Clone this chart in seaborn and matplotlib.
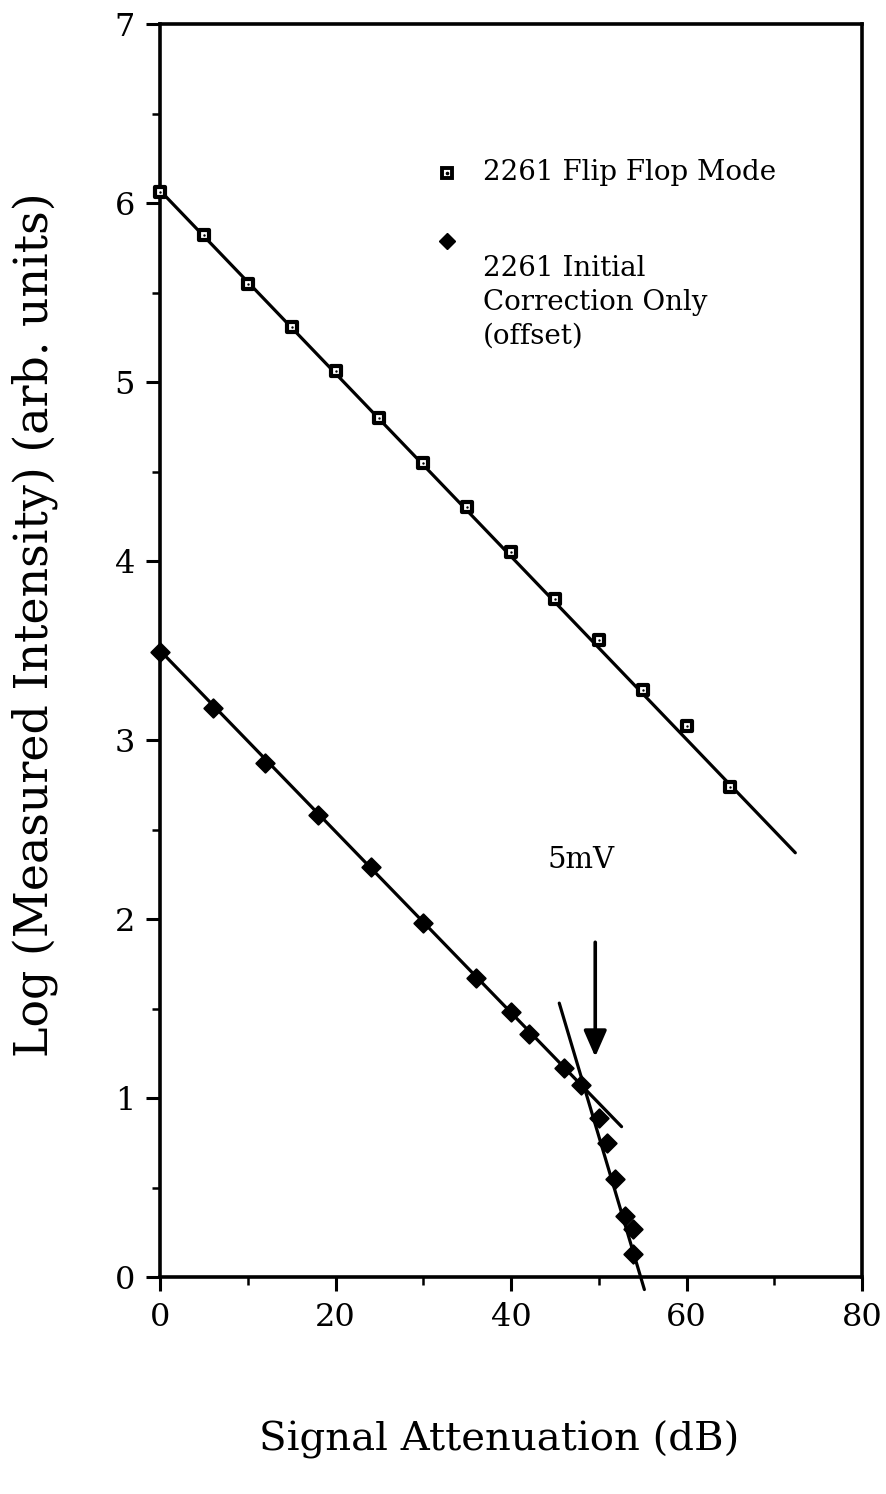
import numpy as np
import pandas as pd
import matplotlib
matplotlib.use("Agg")
import matplotlib.pyplot as plt
import seaborn as sns

# Flip-flop mode measurements
flip_atten = [0, 5, 10, 15, 20, 25, 30, 35, 40, 45, 50, 55, 60, 65]
flip_logI = [6.06, 5.82, 5.55, 5.31, 5.06, 4.80, 4.55, 4.30, 4.05, 3.79, 3.56, 3.28, 3.08, 2.74]

# Initial-correction-only measurements (offset)
init_atten = [0, 6, 12, 18, 24, 30, 36, 40, 42, 46, 48, 50, 50.9, 51.9, 53.0, 53.9, 53.9]
init_logI = [3.49, 3.18, 2.87, 2.58, 2.29, 1.98, 1.67, 1.48, 1.36, 1.17, 1.07,
             0.89, 0.75, 0.55, 0.34, 0.27, 0.13]

# Straight-line fits drawn through each regime
flip_fit_x = [0, 72.4]
flip_fit_y = [6.07, 2.37]
init_fit_x = [0, 52.6]
init_fit_y = [3.50, 0.84]
steep_fit_x = [45.5, 55.2]
steep_fit_y = [1.53, -0.07]

x_ticks = [0, 20, 40, 60, 80]
y_ticks = [0, 1, 2, 3, 4, 5, 6, 7]

sns.set_style("ticks")
plt.rcParams["font.family"] = ["DejaVu Serif"]
plt.rcParams["text.color"] = "black"
plt.rcParams["xtick.color"] = "black"
plt.rcParams["ytick.color"] = "black"
plt.rcParams["xtick.labelcolor"] = "black"
plt.rcParams["ytick.labelcolor"] = "black"

fig = plt.figure(figsize=(8.86, 14.94), dpi=100)
ax = fig.add_axes([160 / 886, 1 - 1277 / 1494, 702 / 886, 1253 / 1494])

flip_df = pd.DataFrame({"atten": flip_atten, "logI": flip_logI})
init_df = pd.DataFrame({"atten": init_atten, "logI": init_logI})

line_kw = dict(color="black", linewidth=2.3, solid_capstyle="round")
sns.lineplot(x=flip_fit_x, y=flip_fit_y, ax=ax, **line_kw)
sns.lineplot(x=init_fit_x, y=init_fit_y, ax=ax, **line_kw)
sns.lineplot(x=steep_fit_x, y=steep_fit_y, ax=ax, clip_on=False, **line_kw)

# Square markers with a dot in the centre
sns.scatterplot(data=flip_df, x="atten", y="logI", ax=ax, marker="s", s=62,
                facecolor="white", edgecolor="black", linewidth=3.0, zorder=5,
                clip_on=False)
sns.scatterplot(data=flip_df, x="atten", y="logI", ax=ax, marker="o", s=3,
                color="black", linewidth=0, zorder=6, clip_on=False)
# Filled diamonds
sns.scatterplot(data=init_df, x="atten", y="logI", ax=ax, marker="D", s=88,
                color="black", edgecolor="black", linewidth=1.4, zorder=5,
                clip_on=False)

ax.set_xlim(0, 80)
ax.set_ylim(0, 7)
ax.set_xticks(x_ticks)
ax.set_yticks(y_ticks)
ax.set_xticks([10, 30, 50, 70], minor=True)
ax.set_yticks(np.arange(0.5, 7, 1.0), minor=True)
ax.tick_params(axis="both", which="major", direction="out", length=10, width=2.2,
               labelsize=23, pad=8, color="black", labelcolor="black")
ax.tick_params(axis="both", which="minor", direction="out", length=6, width=1.8,
               color="black")
for s in ax.spines.values():
    s.set_linewidth(2.6)
    s.set_color("black")
ax.set_xlabel("")
ax.set_ylabel("")

fig.text(499 / 886, 1 - 1440 / 1494, "Signal Attenuation (dB)", fontsize=29,
         ha="center", va="center", color="black")
fig.text(35 / 886, 1 - 625 / 1494, "Log (Measured Intensity) (arb. units)",
         fontsize=33, ha="center", va="center", rotation=90, color="black")

# Legend keys and labels
ax.plot([32.7], [6.17], marker="s", ms=7.6, mfc="white", mec="black", mew=2.8,
        linestyle="none")
ax.plot([32.7], [6.17], marker="o", ms=1.6, color="black", linestyle="none")
ax.plot([32.7], [5.79], marker="D", ms=8.5, color="black", linestyle="none")
ax.text(36.8, 6.17, "2261 Flip Flop Mode", fontsize=20, va="center", ha="left")
ax.text(36.8, 5.71, "2261 Initial\nCorrection Only\n(offset)", fontsize=20,
        va="top", ha="left", linespacing=1.33)

# 5 mV knee annotation
ax.text(48.0, 2.33, "5mV", fontsize=21, ha="center", va="center")
ax.annotate("", xy=(49.6, 1.23), xytext=(49.6, 1.87),
            arrowprops=dict(arrowstyle="-|>,head_length=1.6,head_width=0.7",
                            color="black", lw=2.6, shrinkA=0, shrinkB=0))

fig.savefig("out.png", dpi=100)
